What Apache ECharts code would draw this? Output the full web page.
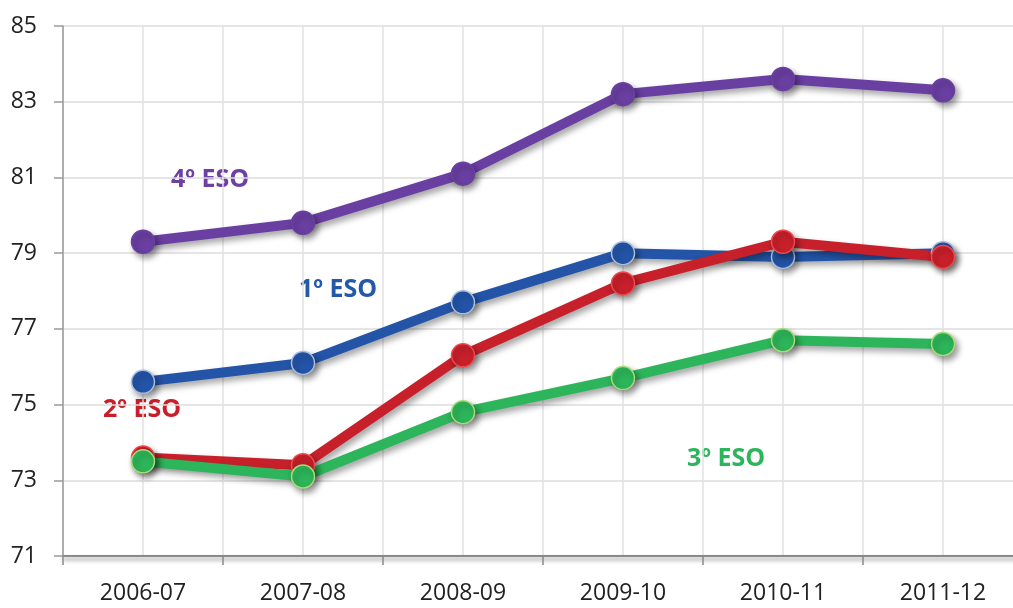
<!DOCTYPE html>
<html>
<head>
<meta charset="utf-8">
<script src="https://cdn.jsdelivr.net/npm/echarts@6/dist/echarts.min.js"></script>
<style>
  html, body { margin: 0; padding: 0; background: #ffffff; overflow: hidden; }
  /* the plot runs a little past the right edge of the window */
  #chart { width: 1023px; height: 608px; }
</style>
</head>
<body>
<div id="chart"></div>
<script>
// School years on the horizontal axis
const years = ['2006-07', '2007-08', '2008-09', '2009-10', '2010-11', '2011-12'];

// Percentage per course
const eso1 = [75.6, 76.1, 77.7, 79.0, 78.9, 79.0];
const eso2 = [73.6, 73.4, 76.3, 78.2, 79.3, 78.9];
const eso3 = [73.5, 73.1, 74.8, 75.7, 76.7, 76.6];
const eso4 = [79.3, 79.8, 81.1, 83.2, 83.6, 83.3];

// Course names, used for the in-chart captions
const names = ['1º ESO', '2º ESO', '3º ESO', '4º ESO'];

const FONT = '"Open Sans", "Noto Sans", sans-serif';

const chart = echarts.init(document.getElementById('chart'), null, { renderer: 'canvas' });

function lineSeries(name, data, color, border) {
  return {
    name: name,
    type: 'line',
    xAxisIndex: 0,
    data: data,
    symbol: 'circle',
    symbolSize: 23,
    z: 3,
    lineStyle: {
      color: color,
      width: 10,
      shadowColor: 'rgba(0,0,0,0.35)',
      shadowBlur: 6,
      shadowOffsetX: 3,
      shadowOffsetY: 4
    },
    itemStyle: {
      color: color,
      borderColor: border,
      borderWidth: 1.5,
      shadowColor: 'rgba(0,0,0,0.4)',
      shadowBlur: 6,
      shadowOffsetX: 3,
      shadowOffsetY: 4
    },
    emphasis: { disabled: true },
    animation: false
  };
}

const option = {
  backgroundColor: '#ffffff',
  animation: false,
  grid: { left: 63, top: 26, right: 0, bottom: 52, containLabel: false },
  xAxis: [
    {
      type: 'category',
      data: years,
      boundaryGap: true,
      position: 'bottom',
      axisLine: {
        show: true,
        lineStyle: {
          color: '#8a8a8a',
          width: 2,
          shadowColor: 'rgba(0,0,0,0.45)',
          shadowBlur: 4,
          shadowOffsetY: 3
        }
      },
      axisTick: { show: true, length: 9, lineStyle: { color: '#8a8a8a', width: 1.5 } },
      axisLabel: { color: '#222222', fontFamily: FONT, fontSize: 23, margin: 26 },
      splitLine: { show: false }
    },
    {
      // half-band scale that carries the vertical grid lines
      type: 'value',
      min: 0,
      max: 12,
      interval: 1,
      position: 'bottom',
      axisLine: { show: false },
      axisTick: { show: false },
      axisLabel: { show: false },
      splitLine: { show: true, lineStyle: { color: '#e2e2e2', width: 1.5 } }
    }
  ],
  yAxis: {
    type: 'value',
    min: 71,
    max: 85,
    interval: 2,
    axisLine: { show: true, lineStyle: { color: '#9a9a9a', width: 1.5 } },
    axisTick: { show: true, length: 9, lineStyle: { color: '#9a9a9a', width: 1.5 } },
    axisLabel: { color: '#222222', fontFamily: FONT, fontSize: 23, margin: 26 },
    splitLine: { show: true, lineStyle: { color: '#dcdcdc', width: 1.5 } }
  },
  series: [
    lineSeries(names[3], eso4, '#6a3fa2', '#6a3fa2'),
    lineSeries(names[0], eso1, '#2354a7', '#a9bde0'),
    lineSeries(names[1], eso2, '#c8202b', '#ee4a4f'),
    lineSeries(names[2], eso3, '#2db55b', '#a8dc72')
  ],
  graphic: [
    { type: 'text', left: 171, top: 167, style: { text: names[3], fill: '#6d40a2', font: 'bold 25px ' + FONT } },
    { type: 'text', left: 299, top: 277, style: { text: names[0], fill: '#2458a8', font: 'bold 25px ' + FONT } },
    { type: 'text', left: 103, top: 397, style: { text: names[1], fill: '#c8202b', font: 'bold 25px ' + FONT } },
    { type: 'text', left: 687, top: 446, style: { text: names[2], fill: '#2db55b', font: 'bold 25px ' + FONT } }
  ]
};

chart.setOption(option);
</script>
</body>
</html>
